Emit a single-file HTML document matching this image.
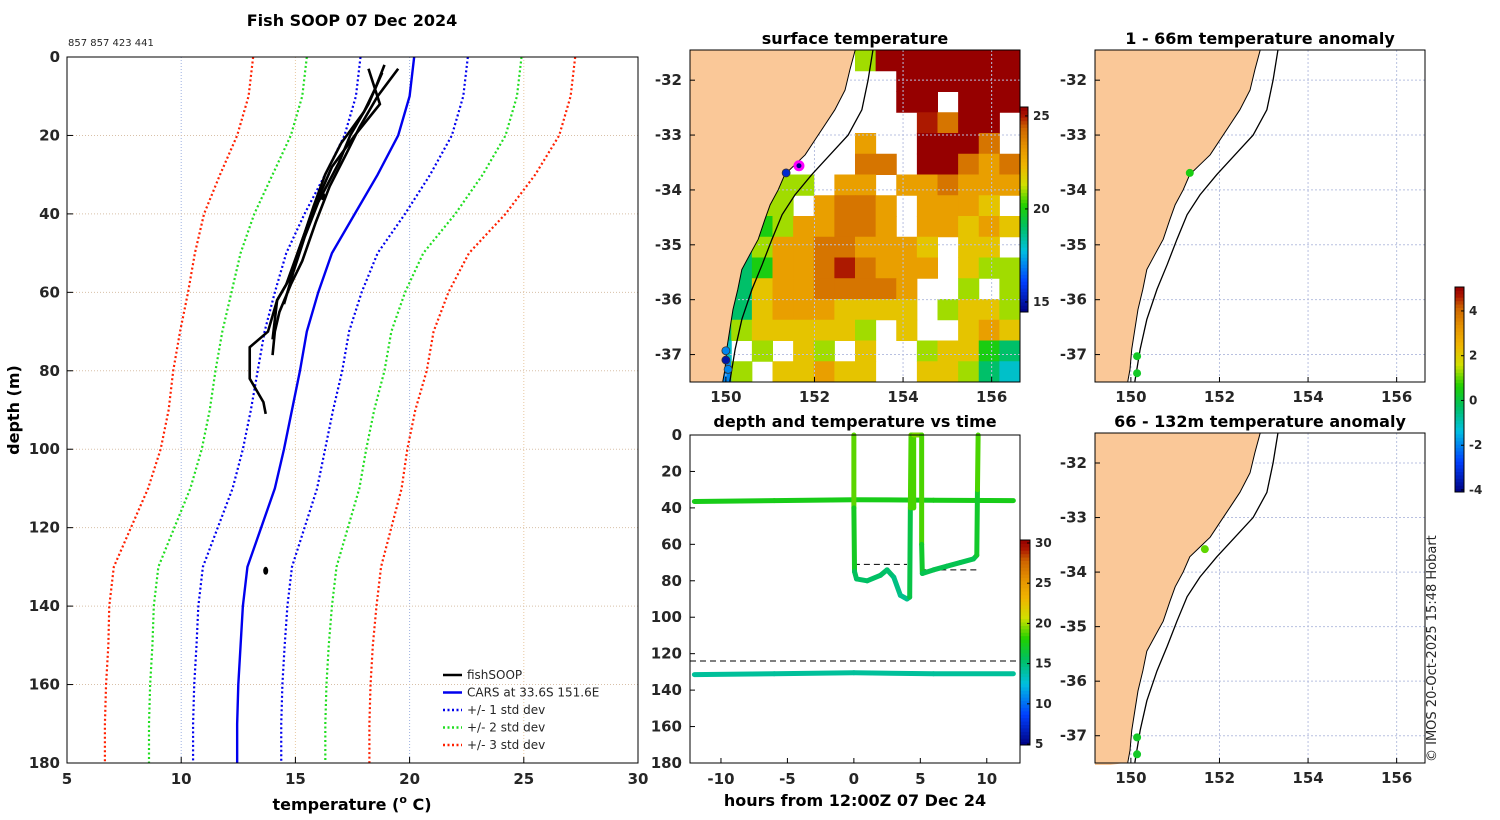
<!DOCTYPE html>
<html><head><meta charset="utf-8"><style>
html,body{margin:0;padding:0;background:#fff;}
svg{display:block;font-family:"DejaVu Sans","Liberation Sans",sans-serif;}
.t{font-weight:bold;font-size:15px;fill:#262626;}
.ti{font-weight:bold;font-size:16px;fill:#000;}
</style></head><body>
<svg id="svg" width="1500" height="820" viewBox="0 0 1500 820" xmlns="http://www.w3.org/2000/svg"></svg>
<script>
// ---------- DATA ----------
const profDepths=[0,10,20,30,40,50,60,70,80,90,100,110,120,130,140,150,160,170,180];
const carsMean=[20.2,20.0,19.5,18.6,17.6,16.6,16.0,15.5,15.2,14.85,14.5,14.1,13.5,12.9,12.7,12.6,12.5,12.45,12.45];
const carsStd=[2.35,2.35,2.35,2.3,2.2,2.0,1.9,1.85,1.85,1.8,1.8,1.85,1.9,1.95,1.95,1.93,1.93,1.93,1.93];
const profXTicks=[5,10,15,20,25,30];
const profYTicks=[0,20,40,60,80,100,120,140,160,180];
const cast1T=[19.5,18.6,17.8,17.2,16.5,15.9,15.3,14.8,14.3,14.1,14.0];
const cast1D=[3,10,18,25,33,42,52,58,65,70,76];
const cast2T=[18.9,18.5,18.0,17.0,16.3,15.8,15.4,14.6,14.2,13.8,13.0,13.0,13.6,13.7];
const cast2D=[2,8,14,22,30,38,45,58,62,70,74,82,88,91];
const cast3T=[18.2,18.7,17.6,16.6,15.7,15.1,14.8,14.2,14.0];
const cast3D=[3,12,20,28,40,50,56,62,72];
const cast4T=[18.8,18.2,17.4,16.9,16.0,15.4,14.9,14.5];
const cast4D=[4,12,20,27,37,46,55,63];
const blobT=[16.2,13.7];
const blobD=[35.5,131];
// SST grid (0 = no data), rows top->bottom, cols west->east
const sstGrid=[
[0,0,0,0,0,0,0,0,21,26,26,26,26,26,26,26],
[0,0,0,0,0,0,0,0,0,0,26,26,26,26,26,26],
[0,0,0,0,0,0,0,0,0,0,26,26,0,26,26,26],
[0,0,0,0,0,0,0,0,0,0,0,25,24,26,26,0],
[0,0,0,0,0,0,0,0,23,0,0,26,26,26,24,0],
[0,0,0,0,0,0,0,0,24,24,0,26,26,24,23,24],
[0,0,0,0,21,21,0,23,23,0,23,23,24,23,23,23],
[0,0,0,21,21,0,23,24,24,23,0,23,23,23,22,0],
[0,0,0,20,21,23,23,24,24,23,0,23,23,22,23,22],
[0,0,19,21,23,23,24,24,23,23,23,22,0,22,22,0],
[0,0,19,20,23,23,24,25,24,23,23,23,0,22,21,21],
[0,0,19,22,23,23,24,24,24,24,23,0,0,21,0,21],
[0,19,19,22,23,23,23,22,22,22,22,0,21,22,22,21],
[0,19,21,22,22,22,22,22,21,0,22,0,0,22,23,22],
[0,18,0,21,0,22,21,0,22,0,0,21,22,22,20,19],
[0,17,21,0,22,22,23,22,22,0,0,22,22,21,19,18]];
const mapLonTicks=[150,152,154,156];
const mapLatTicks=[-32,-33,-34,-35,-36,-37];
const coastLon=[152.92,152.80,152.69,152.46,152.24,152.01,151.79,151.56,151.33,151.18,151.0,150.88,150.73,150.54,150.36,150.27,150.16,150.09,150.02,149.98,149.93];
const coastLat=[-31.45,-31.81,-32.18,-32.54,-32.81,-33.09,-33.36,-33.54,-33.72,-34.0,-34.27,-34.54,-34.9,-35.18,-35.45,-35.81,-36.18,-36.54,-36.9,-37.27,-37.49];
const isoLon=[153.32,153.21,153.07,152.76,152.35,151.94,151.56,151.27,151.04,150.82,150.59,150.36,150.21,150.09];
const isoLat=[-31.45,-32.0,-32.54,-33.0,-33.36,-33.72,-34.09,-34.45,-34.9,-35.36,-35.81,-36.36,-36.9,-37.49];
const sstPtLon=[151.36,150.0,150.0,150.05];
const sstPtLat=[-33.69,-36.93,-37.1,-37.27];
const sstPtVal=[15.5,17,15,17];
const anom1Lon=[151.33,150.14,150.14];
const anom1Lat=[-33.69,-37.03,-37.34];
const anom1Val=[0.5,0.3,0.3];
const anom2Lon=[151.67,150.14,150.14];
const anom2Lat=[-33.58,-37.03,-37.34];
const anom2Val=[1.0,0.3,0.3];
const sstCbTicks=[15,20,25];
const anomCbTicks=[-4,-2,0,2,4];
const tsCbTicks=[5,10,15,20,25,30];
const tsXTicks=[-10,-5,0,5,10];
const tsYTicks=[0,20,40,60,80,100,120,140,160,180];
const castHour=[0,0,0.05,0.2,1,2,2.5,3,3.5,4,4.2,4.25,4.3,4.4,4.5,4.5,5.1,5.1,5.15,6,7,8,9,9.25,9.3,9.35];
const castDepth=[0,40,75,79,80,77,74,78,88,90,89,40,0,0,40,0,0,60,76,74,72,70,68,66,30,0];
const castTemp=[19.5,18.5,16,15.5,15.5,15.5,15.5,15,14.5,14.5,14.5,18,19.5,19.5,18,19.5,19.5,18,16,16,16,16,16,16,18,19.5];
const band1Hour=[-12,-6,0,6,12];
const band1Depth=[36.5,36,35.5,35.8,36];
const band1Temp=[17.5,17.5,17.5,17.5,17.5];
const band2Hour=[-12,-6,0,6,12];
const band2Depth=[131.5,131,130.5,131,131];
const band2Temp=[14.2,14.2,14.2,14.2,14.2];

// ---------- helpers ----------
const S=document.getElementById('svg');const NS='http://www.w3.org/2000/svg';
function el(tag,attrs,parent){const e=document.createElementNS(NS,tag);for(const k in attrs)e.setAttribute(k,attrs[k]);(parent||S).appendChild(e);return e;}
function txt(x,y,s,cls,anchor,parent,extra){const e=el('text',Object.assign({x:x,y:y,class:cls||'t','text-anchor':anchor||'middle'},extra||{}),parent);e.textContent=s;return e;}
const stops=[[0,[0,0,128]],[0.15,[0,64,255]],[0.3,[0,192,224]],[0.42,[0,192,96]],[0.52,[32,208,0]],[0.62,[208,224,0]],[0.72,[240,180,0]],[0.8,[230,150,0]],[0.9,[205,100,0]],[0.96,[170,20,0]],[1,[150,0,0]]];
function cmap(t){t=Math.max(0,Math.min(1,t));for(let i=1;i<stops.length;i++){if(t<=stops[i][0]){const a=stops[i-1],b=stops[i];const f=(t-a[0])/(b[0]-a[0]);const c=a[1].map((v,j)=>Math.round(v+(b[1][j]-v)*f));return 'rgb('+c.join(',')+')';}}return 'rgb(150,0,0)';}
function colorbar(x,y,w,h,vmin,vmax,ticks,name){
  const g=el('g',{},S);
  const n=60;for(let i=0;i<n;i++){el('rect',{x:x,y:y+h-(i+1)*h/n,width:w,height:h/n+0.5,fill:cmap((i+0.5)/n)},g);}
  el('rect',{x:x,y:y,width:w,height:h,fill:'none',stroke:'#000','stroke-width':1},g);
  ticks.forEach(v=>{const yy=y+h-(v-vmin)/(vmax-vmin)*h;el('line',{x1:x+w-3,x2:x+w,y1:yy,y2:yy,stroke:'#000'},g);const t=txt(x+w+5,yy+4,String(v),'t','start',g);t.setAttribute('style','font-size:12px');});
  return g;}

// ---------- PROFILE ----------
const P={x0:67,x1:638,y0:57,y1:763};
const px=v=>P.x0+(v-5)/(30-5)*(P.x1-P.x0);
const py=d=>P.y0+d/180*(P.y1-P.y0);
txt(352,26,'Fish SOOP 07 Dec 2024','ti','middle',S,{});
txt(68,46,'857 857 423 441','t','start',S,{'style':'font-size:10px;font-weight:normal',});
const gp=el('g',{},S);
el('rect',{x:P.x0,y:P.y0,width:P.x1-P.x0,height:P.y1-P.y0,fill:'#fff',stroke:'none'},gp);
profXTicks.forEach((v,i)=>{if(i>0&&i<profXTicks.length-1)el('line',{x1:px(v),x2:px(v),y1:P.y0,y2:P.y1,stroke:i%2?'#9db0e0':'#e8c8a0','stroke-dasharray':'1,2'},gp);
  el('line',{x1:px(v),x2:px(v),y1:P.y1,y2:P.y1-6,stroke:'#000'},gp);txt(px(v),P.y1+21,String(v),'t','middle',gp);});
profYTicks.forEach((v,i)=>{if(i>0&&i<profYTicks.length-1)el('line',{x1:P.x0,x2:P.x1,y1:py(v),y2:py(v),stroke:'#d8c0a8','stroke-dasharray':'1,2'},gp);
  el('line',{x1:P.x0,x2:P.x0+6,y1:py(v),y2:py(v),stroke:'#000'},gp);txt(P.x0-7,py(v)+5,String(v),'t','end',gp);});
function profLine(k,color,dash,name){const pts=profDepths.map((d,i)=>px(carsMean[i]+k*carsStd[i])+','+py(d)).join(' ');
  const l=el('polyline',{points:pts,fill:'none',stroke:color,'stroke-width':dash?2.2:2.4,'stroke-dasharray':dash?'2,2.5':'none'},gp);}
profLine(-3,'#ff2000',true,'cars-minus-3std');profLine(3,'#ff2000',true,'cars-plus-3std');
profLine(-2,'#20dd20',true,'cars-minus-2std');profLine(2,'#20dd20',true,'cars-plus-2std');
profLine(-1,'#0000ee',true,'cars-minus-1std');profLine(1,'#0000ee',true,'cars-plus-1std');
profLine(0,'#0000ee',false,'cars-mean');
[[cast1T,cast1D],[cast2T,cast2D],[cast3T,cast3D],[cast4T,cast4D]].forEach((c,ci)=>{
  const l=el('polyline',{points:c[0].map((t,i)=>px(t)+','+py(c[1][i])).join(' '),fill:'none',stroke:'#000','stroke-width':2.6},gp);
  });
blobT.forEach((t,i)=>{const e=el('ellipse',{cx:px(t),cy:py(blobD[i]),rx:2.5,ry:4,fill:'#000'},gp);});
el('rect',{x:P.x0,y:P.y0,width:P.x1-P.x0,height:P.y1-P.y0,fill:'none',stroke:'#000','stroke-width':1},gp);
// legend
const lg=el('g',{},S);
[['fishSOOP','#000',false],['CARS at 33.6S 151.6E','#0000ee',false],['+/- 1 std dev','#0000ee',true],['+/- 2 std dev','#20dd20',true],['+/- 3 std dev','#ff2000',true]].forEach((e,i)=>{
  const y=675+i*17.5;el('line',{x1:443,x2:462,y1:y,y2:y,stroke:e[1],'stroke-width':2.4,'stroke-dasharray':e[2]?'2,2.5':'none'},lg);
  const t=txt(467,y+4,e[0],'t','start',lg);t.setAttribute('style','font-size:12px;font-weight:normal');});
txt(0,0,'depth (m)','ti','middle',S,{transform:'translate(19,410) rotate(-90)',});
const xl=txt(352,810,'temperature (','ti','middle',S,{});
const sup=el('tspan',{dy:-7,style:'font-size:11px'},xl);sup.textContent='o';const rest=el('tspan',{dy:7},xl);rest.textContent=' C)';

// ---------- MAPS ----------
function makeMap(x0,y0,name,title){
  const M={x0:x0,y0:y0,w:330,h:332,lon0:149.19,lon1:156.64,lat0:-31.45,lat1:-37.5};
  M.x=lon=>M.x0+(lon-M.lon0)/(M.lon1-M.lon0)*M.w;M.y=lat=>M.y0+(lat-M.lat0)/(M.lat1-M.lat0)*M.h;
  M.g=el('g',{},S);
  txt(x0+165,y0-6,title,'ti','middle',M.g);
  const cp=el('clipPath',{id:'clip'+name},M.g);el('rect',{x:x0,y:y0,width:M.w,height:M.h},cp);
  M.inner=el('g',{'clip-path':'url(#clip'+name+')'},M.g);
  el('rect',{x:x0,y:y0,width:M.w,height:M.h,fill:'#fff'},M.inner);
  return M;}
function finishMap(M,grid){
  const g=M.inner;
  if(grid){mapLonTicks.forEach(v=>el('line',{x1:M.x(v),x2:M.x(v),y1:M.y0,y2:M.y0+M.h,stroke:'#b8c0e0','stroke-dasharray':'2,2'},g));
  mapLatTicks.forEach(v=>el('line',{x1:M.x0,x2:M.x0+M.w,y1:M.y(v),y2:M.y(v),stroke:'#b8c0e0','stroke-dasharray':'2,2'},g));}
  const land=coastLon.map((l,i)=>M.x(l)+','+M.y(coastLat[i]));land.push(M.x0-5+','+(M.y0+M.h+5));land.push(M.x0-5+','+(M.y0-5));
  const lp=el('polygon',{points:land.join(' '),fill:'#fac898',stroke:'none'},g);
  el('polyline',{points:coastLon.map((l,i)=>M.x(l)+','+M.y(coastLat[i])).join(' '),fill:'none',stroke:'#000','stroke-width':1},g);
  const iso=el('polyline',{points:isoLon.map((l,i)=>M.x(l)+','+M.y(isoLat[i])).join(' '),fill:'none',stroke:'#000','stroke-width':1.3},g);
  
  mapLonTicks.forEach(v=>{el('line',{x1:M.x(v),x2:M.x(v),y1:M.y0+M.h,y2:M.y0+M.h-5,stroke:'#000'},M.g);txt(M.x(v),M.y0+M.h+20,String(v),'t','middle',M.g);});
  mapLatTicks.forEach(v=>{el('line',{x1:M.x0,x2:M.x0+5,y1:M.y(v),y2:M.y(v),stroke:'#000'},M.g);txt(M.x0-8,M.y(v)+5,String(v),'t','end',M.g);});
  el('rect',{x:M.x0,y:M.y0,width:M.w,height:M.h,fill:'none',stroke:'#000'},M.g);}
// SST map
const M1=makeMap(690,50,'surface-temperature-map','surface temperature');
const sstMin=14.46,sstMax=25.48;const nr=sstGrid.length,nc=sstGrid[0].length;
sstGrid.forEach((row,r)=>row.forEach((v,c)=>{if(v>0){const cell=el('rect',{x:M1.x0+c*M1.w/nc,y:M1.y0+r*M1.h/nr,width:M1.w/nc+0.5,height:M1.h/nr+0.5,fill:cmap((v-sstMin)/(sstMax-sstMin))},M1.inner);
  }}));
finishMap(M1,true);
sstPtLon.forEach((l,i)=>{const c=el('circle',{cx:M1.x(l),cy:M1.y(sstPtLat[i]),r:4,fill:cmap((sstPtVal[i]-sstMin)/(sstMax-sstMin)),stroke:'#333','stroke-width':0.8},M1.g);});
const cur=el('circle',{cx:M1.x(151.65),cy:M1.y(-33.56),r:4,fill:'#000080',stroke:'#ff00ff','stroke-width':3},M1.g);
colorbar(1020,107,8,205,sstMin,sstMax,sstCbTicks,'sst-colorbar');
// anomaly maps
const aMin=-4.09,aMax=5.07;
const M2=makeMap(1095,50,'anomaly-map-1-66m','1 - 66m temperature anomaly');finishMap(M2,true);
anom1Lon.forEach((l,i)=>{const c=el('circle',{cx:M2.x(l),cy:M2.y(anom1Lat[i]),r:4,fill:cmap((anom1Val[i]-aMin)/(aMax-aMin))},M2.g);});
const M3=makeMap(1095,433,'anomaly-map-66-132m','66 - 132m temperature anomaly');M3.h=330;finishMap(M3,true);
anom2Lon.forEach((l,i)=>{const c=el('circle',{cx:M3.x(l),cy:M3.y(anom2Lat[i]),r:4,fill:cmap((anom2Val[i]-aMin)/(aMax-aMin))},M3.g);});
colorbar(1455,287,9,205,aMin,aMax,anomCbTicks,'anomaly-colorbar');

// ---------- TIME SERIES ----------
const T={x0:690,x1:1020,y0:435,y1:763,h0:-12.33,h1:12.5};
const tx=h=>T.x0+(h-T.h0)/(T.h1-T.h0)*(T.x1-T.x0);
const ty=d=>T.y0+d/180*(T.y1-T.y0);
const tMin=4.88,tMax=30.37;
const gt=el('g',{},S);
txt(855,427,'depth and temperature vs time','ti','middle',gt);
[0,124].forEach(d=>el('line',{x1:T.x0,x2:T.x1,y1:ty(d),y2:ty(d),stroke:'#000','stroke-dasharray':'6,4'},gt));
el('line',{x1:tx(0),x2:tx(4),y1:ty(71),y2:ty(71),stroke:'#000','stroke-dasharray':'6,4'},gt);
el('line',{x1:tx(5),x2:tx(9.5),y1:ty(74),y2:ty(74),stroke:'#000','stroke-dasharray':'6,4'},gt);
function series(H,D,TT,name,w){for(let i=1;i<H.length;i++){const s=el('line',{x1:tx(H[i-1]),y1:ty(D[i-1]),x2:tx(H[i]),y2:ty(D[i]),stroke:cmap(((TT[i-1]+TT[i])/2-tMin)/(tMax-tMin)),'stroke-width':w,'stroke-linecap':'round'},gt);
  }}
series(band1Hour,band1Depth,band1Temp,'band-36m',5);
series(band2Hour,band2Depth,band2Temp,'band-131m',5);
series(castHour,castDepth,castTemp,'cast-trace',5);
tsXTicks.forEach(v=>{el('line',{x1:tx(v),x2:tx(v),y1:T.y1,y2:T.y1-5,stroke:'#000'},gt);txt(tx(v),T.y1+21,String(v),'t','middle',gt);});
tsYTicks.forEach(v=>{el('line',{x1:T.x0,x2:T.x0+5,y1:ty(v),y2:ty(v),stroke:'#000'},gt);txt(T.x0-8,ty(v)+5,String(v),'t','end',gt);});
el('rect',{x:T.x0,y:T.y0,width:T.x1-T.x0,height:T.y1-T.y0,fill:'none',stroke:'#000'},gt);
txt(855,806,'hours from 12:00Z 07 Dec 24','ti','middle',S,{});
colorbar(1020,540,10,205,tMin,tMax,tsCbTicks,'time-colorbar');
txt(0,0,'© IMOS 20-Oct-2025 15:48 Hobart','t','start',S,{transform:'translate(1436,762) rotate(-90)',style:'font-size:13px;font-weight:normal',});
</script>
</body></html>
